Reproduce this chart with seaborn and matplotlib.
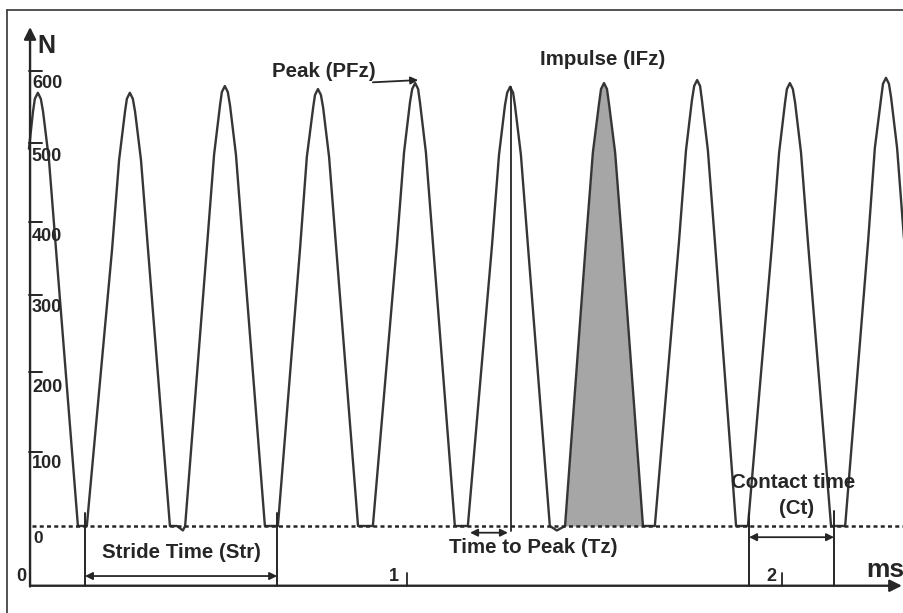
import matplotlib
matplotlib.use("Agg")
import matplotlib.pyplot as plt
import seaborn as sns
import pandas as pd

# ---------------- data ----------------
# vertical ground-reaction-force trace (time units, Newton)
trace_t = [-0.019, -0.008, -0.003, 0.005, 0.013, 0.019, 0.035, 0.054, 0.113, 0.137,
           0.205, 0.224, 0.240, 0.245, 0.253, 0.261, 0.267, 0.283, 0.302, 0.361, 0.380, 0.396, 0.402,
           0.461, 0.480, 0.496, 0.501, 0.509, 0.517, 0.523, 0.539, 0.558, 0.617, 0.652,
           0.712, 0.730, 0.747, 0.752, 0.760, 0.768, 0.774, 0.790, 0.809, 0.868, 0.908,
           0.973, 0.992, 1.008, 1.014, 1.022, 1.030, 1.035, 1.051, 1.070, 1.129, 1.164,
           1.229, 1.248, 1.264, 1.270, 1.278, 1.286, 1.291, 1.307, 1.326, 1.385, 1.404, 1.426,
           1.482, 1.501, 1.518, 1.523, 1.531, 1.539, 1.544, 1.561, 1.580, 1.636, 1.668,
           1.733, 1.752, 1.768, 1.774, 1.782, 1.790, 1.795, 1.811, 1.830, 1.887, 1.919,
           1.984, 2.003, 2.019, 2.024, 2.032, 2.040, 2.046, 2.062, 2.081, 2.143, 2.181,
           2.243, 2.261, 2.278, 2.283, 2.291, 2.299, 2.305, 2.321, 2.340, 2.383]
trace_n = [505, 555, 572, 580, 572, 555, 490, 370, 0, 0,
           370, 490, 555, 572, 580, 572, 555, 490, 370, 0, 0, -6, 0,
           375, 497, 563, 581, 589, 581, 563, 497, 375, 0, 0,
           373, 494, 560, 577, 585, 577, 560, 494, 373, 0, 0,
           378, 500, 567, 585, 593, 585, 567, 500, 378, 0, 0,
           375, 497, 563, 580, 588, 580, 563, 497, 375, 0, -6, 0,
           378, 500, 567, 585, 593, 585, 567, 500, 378, 0, 0,
           380, 503, 570, 589, 597, 589, 570, 503, 380, 0, 0,
           378, 500, 567, 585, 593, 585, 567, 500, 378, 0, 0,
           382, 506, 573, 592, 600, 592, 573, 506, 382, 100]

# y-axis ticks (hand-drawn positions) and labels
ytick_pos = [99, 206, 309, 407, 513, 609]
ytick_lab_pos = [84, 186, 292, 388, 495, 592]
ytick_labels = ["100", "200", "300", "400", "500", "600"]

# x-axis ticks
xtick_pos = [1.0, 2.01]
xtick_lab_pos = [0.965, 1.981]
xtick_labels = ["1", "2"]

# event markers
impulse_range = [1.426, 1.636]
stride_range = [0.132, 0.650]
contact_range = [1.922, 2.151]
tz_range = [1.170, 1.272]
tz_line_t = 1.280
tz_peak_n = 588
pfz_arrow = [0.908, 1.030, 597]

# ---------------- figure ----------------
sns.set_style("white")
plt.rcParams["font.family"] = ["Liberation Sans", "DejaVu Sans"]

fig = plt.figure(figsize=(9.04, 6.13), dpi=100)
ax = fig.add_axes([0, 0, 1, 1])
ax.set_xlim(-0.0970, 2.3396)
ax.set_ylim(-116.5, 704.2)
ax.axis("off")

ink = "#262626"
df = pd.DataFrame({"t": trace_t, "n": trace_n})

# impulse shading
seg = df[(df.t >= impulse_range[0]) & (df.t <= impulse_range[1])]
ax.fill_between(seg.t, seg.n, 0, color="#a6a6a6", lw=0, zorder=1)

# force trace
sns.lineplot(data=df, x="t", y="n", sort=False, estimator=None,
             color="#363636", lw=1.7, ax=ax, zorder=3)

# dotted baseline (0 N)
ax.plot([-0.012, 2.3396], [0, 0], color=ink, lw=1.8,
        linestyle=(0, (1.6, 1.3)), zorder=4)

# outer frame
ax.plot([-0.078, -0.078], [-120, 691], color="#444", lw=1.3, clip_on=False)
ax.plot([-0.078, 2.35], [691, 691], color="#444", lw=1.3, clip_on=False)

# axes with arrows
y_axis_t = -0.016
x_axis_n = -80
ax.annotate("", xy=(y_axis_t, 668), xytext=(y_axis_t, x_axis_n - 1),
            arrowprops=dict(arrowstyle="-|>", lw=1.7, color=ink,
                            mutation_scale=18, shrinkA=0, shrinkB=0), zorder=5)
ax.annotate("", xy=(2.334, x_axis_n), xytext=(y_axis_t, x_axis_n),
            arrowprops=dict(arrowstyle="-|>", lw=1.7, color=ink,
                            mutation_scale=18, shrinkA=0, shrinkB=0), zorder=5)

ax.text(0.003, 643, "N", fontsize=18, fontweight="bold", color=ink,
        ha="left", va="center")
ax.text(2.238, -59, "ms", fontsize=19, fontweight="bold", color=ink,
        ha="left", va="center")

# y ticks
for p, lp, lab in zip(ytick_pos, ytick_lab_pos, ytick_labels):
    ax.plot([-0.019, 0.016], [p, p], color=ink, lw=1.4, zorder=5)
    ax.text(-0.011, lp, lab, fontsize=13, fontweight="bold", color=ink,
            ha="left", va="center", zorder=6)
ax.text(-0.008, -17, "0", fontsize=12.5, fontweight="bold", color=ink,
        ha="left", va="center")
ax.text(-0.040, -67, "0", fontsize=13, fontweight="bold", color=ink,
        ha="center", va="center")

# x ticks
for p, lp, lab in zip(xtick_pos, xtick_lab_pos, xtick_labels):
    ax.plot([p, p], [-63, x_axis_n], color=ink, lw=1.3)
    ax.text(lp, -67, lab, fontsize=13, fontweight="bold", color=ink,
            ha="center", va="center")

arrow_kw = dict(arrowstyle="<|-|>", lw=1.3, color=ink, mutation_scale=11,
                shrinkA=0, shrinkB=0)

# stride time
for t in stride_range:
    ax.plot([t, t], [17, x_axis_n], color=ink, lw=1.4, zorder=5)
ax.annotate("", xy=(stride_range[0], -67), xytext=(stride_range[1], -67),
            arrowprops=arrow_kw)
ax.text(sum(stride_range) / 2, -35, "Stride Time (Str)", fontsize=14.8,
        fontweight="bold", color=ink, ha="center", va="center")

# contact time
for t, top in zip(contact_range, [18, 20]):
    ax.plot([t, t], [top, x_axis_n], color=ink, lw=1.4, zorder=5)
ax.annotate("", xy=(contact_range[0], -15), xytext=(contact_range[1], -15),
            arrowprops=arrow_kw)
ax.text(2.040, 58, "Contact time", fontsize=14.8, fontweight="bold",
        color=ink, ha="center", va="center", zorder=6)
ax.text(2.051, 24, "(Ct)", fontsize=14.8, fontweight="bold",
        color=ink, ha="center", va="center", zorder=6)

# time to peak
ax.plot([tz_line_t, tz_line_t], [tz_peak_n, -7], color=ink, lw=1.3, zorder=5)
ax.annotate("", xy=(tz_range[0], -9), xytext=(tz_range[1], -9),
            arrowprops=arrow_kw)
ax.text(1.340, -29, "Time to Peak (Tz)", fontsize=14.8, fontweight="bold",
        color=ink, ha="center", va="center")

# peak
ax.annotate("", xy=(pfz_arrow[1], pfz_arrow[2]),
            xytext=(pfz_arrow[0], pfz_arrow[2] - 3),
            arrowprops=dict(arrowstyle="-|>", lw=1.3, color=ink,
                            mutation_scale=11, shrinkA=0, shrinkB=0))
ax.text(0.776, 609, "Peak (PFz)", fontsize=14.8, fontweight="bold",
        color=ink, ha="center", va="center")

# impulse
ax.text(1.526, 624, "Impulse (IFz)", fontsize=14.8, fontweight="bold",
        color=ink, ha="center", va="center")

fig.savefig("out.png", dpi=100)
